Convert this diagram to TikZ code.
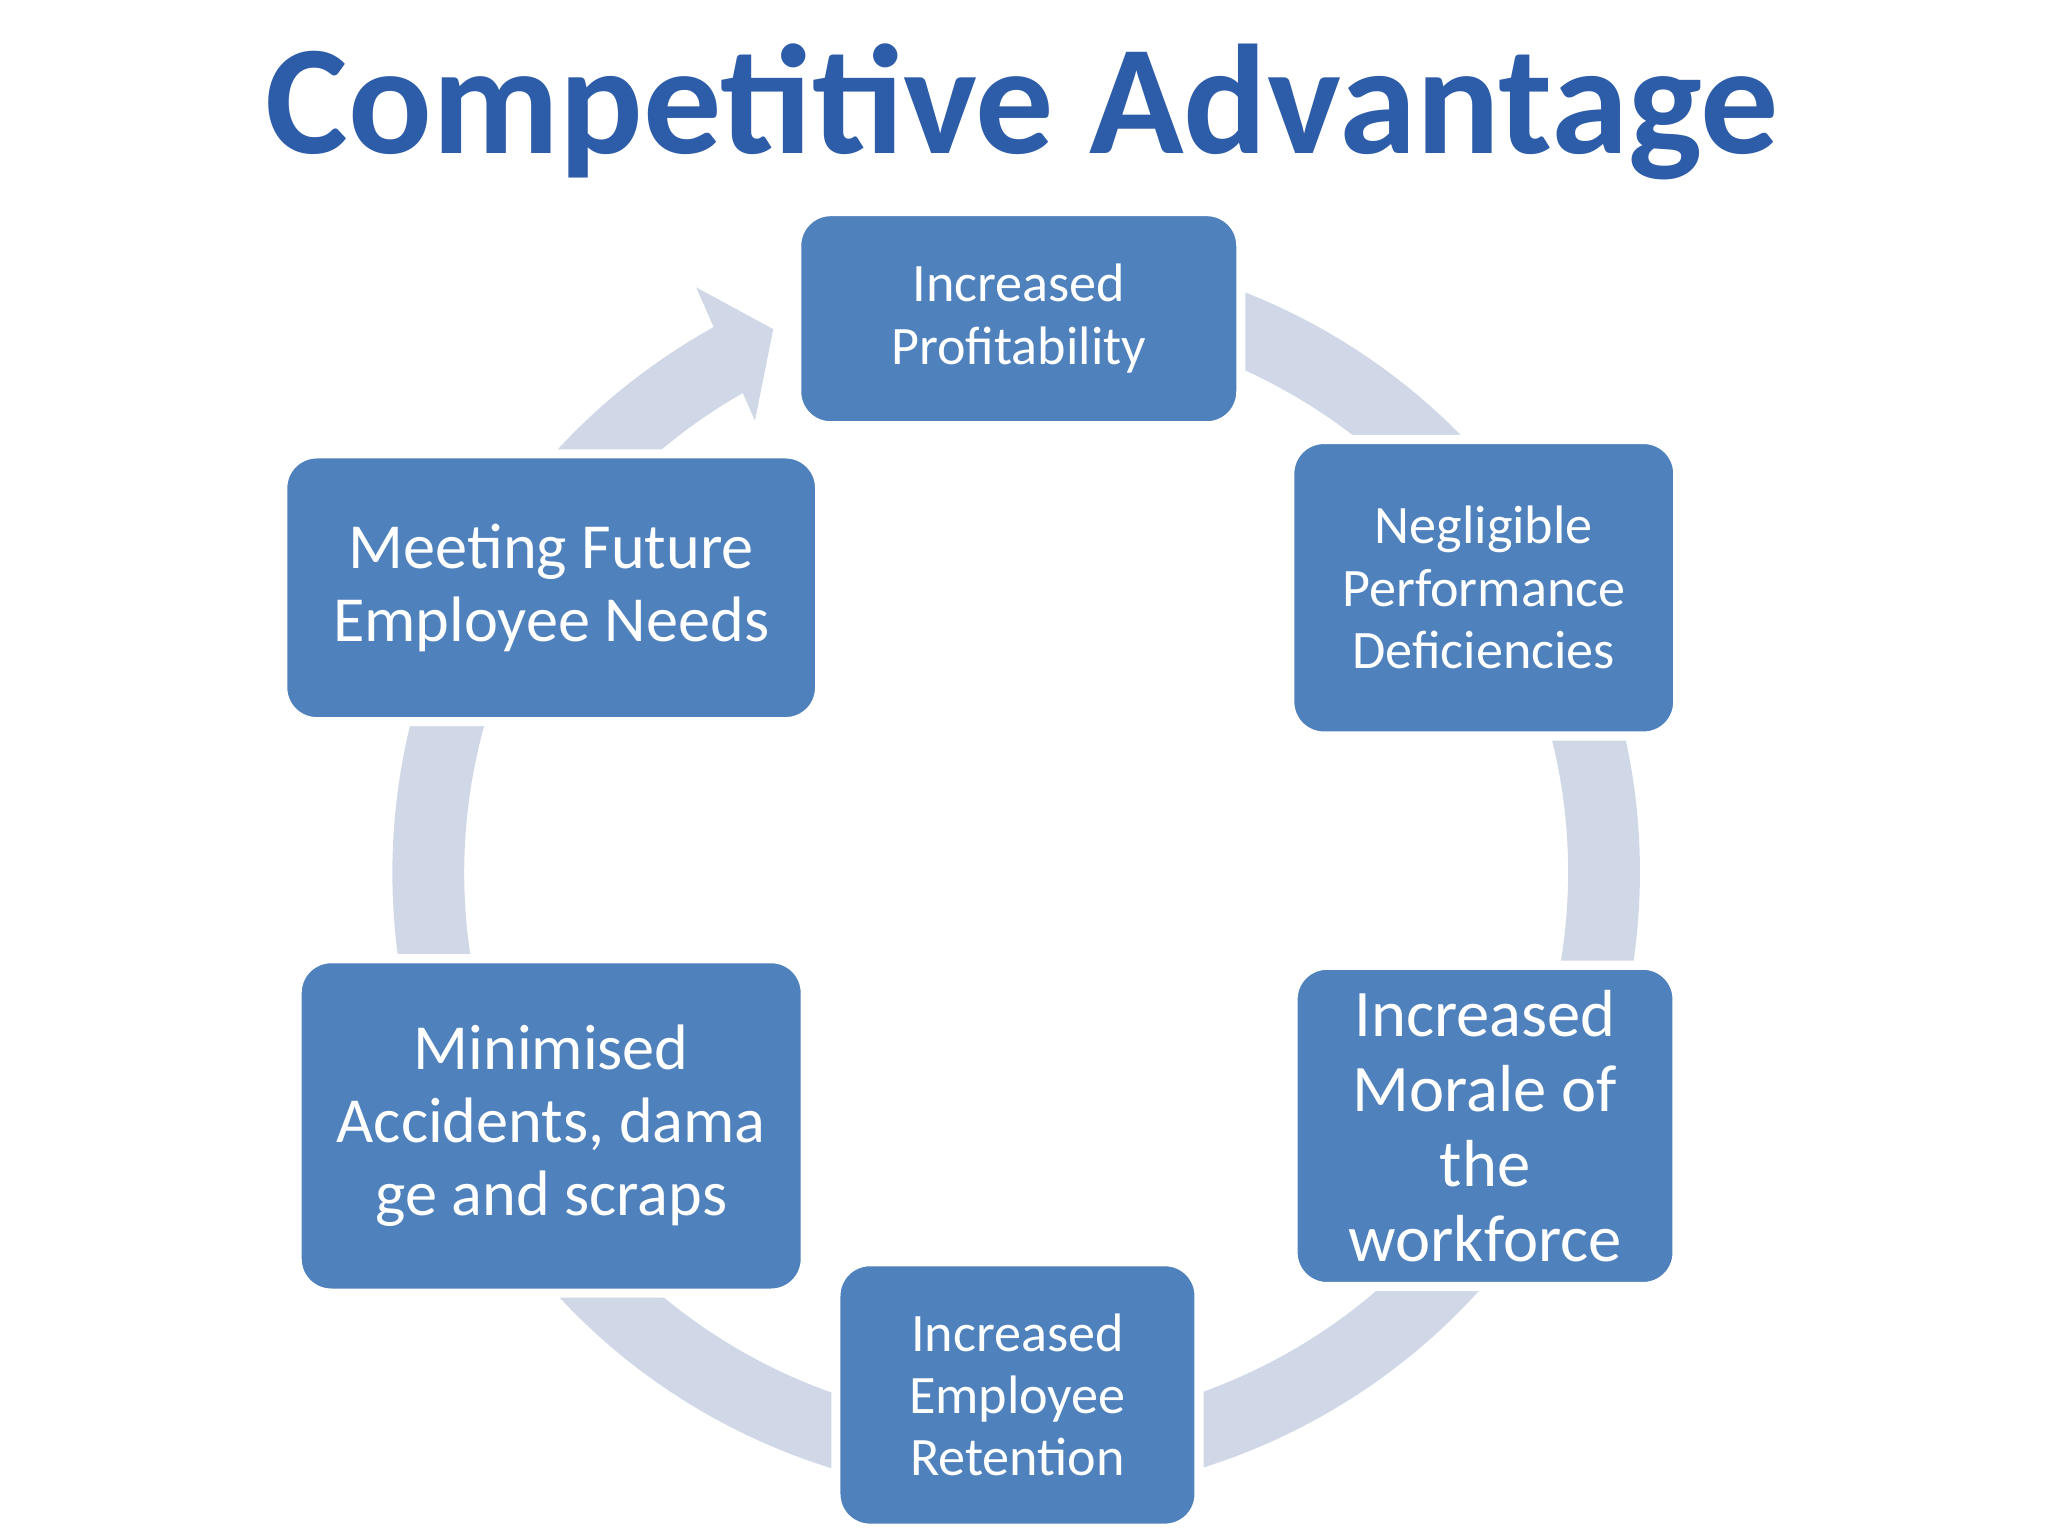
\documentclass[tikz,border=0pt]{standalone}
\usepackage{fontspec}
\setmainfont{Carlito}
\begin{document}
\begin{tikzpicture}[x=0.1mm,y=-0.1mm]
\definecolor{boxblue}{HTML}{4F81BD}
\definecolor{ringc}{HTML}{D0D8E8}
\definecolor{titleblue}{HTML}{2D5CA8}
\tikzset{
  stepbox/.style={fill=boxblue, draw=white, line width=0.7mm, rounded corners=2.6mm, text=white, align=center, inner sep=0pt},
  small/.style={font=\fontsize{11.8}{13.6}\selectfont},
  large/.style={font=\fontsize{14}{15.9}\selectfont},
}
\useasboundingbox (0,0) rectangle (1568,1176);
\fill[white] (0,0) rectangle (1568,1176);
% ring (y axis points down, so angles are mirrored)
\draw[ringc, line width=5.5mm] (778,668) ++(-118:450) arc[start angle=-118, end angle=-460, radius=450];
\fill[ringc] (533,220) -- (592,252) -- (578,322) -- cycle;
% title
\node[font=\bfseries\fontsize{34}{40}\selectfont, text=titleblue] (title) at (783,86) {Competitive Advantage};
% boxes
\node[stepbox, small, minimum width=34mm, minimum height=16.4mm] (b1) at (780,244) {Increased\\Profitability};
\node[stepbox, small, minimum width=29.7mm, minimum height=22.7mm] (b2) at (1136,450) {Negligible\\Performance\\Deficiencies};
\node[stepbox, minimum width=29.4mm, minimum height=24.6mm, font=\fontsize{14.5}{16.3}\selectfont] (b3) at (1137,862) {Increased\\Morale of\\the\\workforce};
\node[stepbox, small, minimum width=27.8mm, minimum height=20.4mm] (b4) at (779,1068) {Increased\\Employee\\Retention};
\node[stepbox, large, minimum width=38.9mm, minimum height=25.6mm] (b5) at (422,862) {Minimised\\Accidents, dama\\ge and scraps};
\node[stepbox, large, minimum width=41.1mm, minimum height=20.5mm] (b6) at (422,450) {Meeting Future\\Employee Needs};
\end{tikzpicture}
\end{document}
